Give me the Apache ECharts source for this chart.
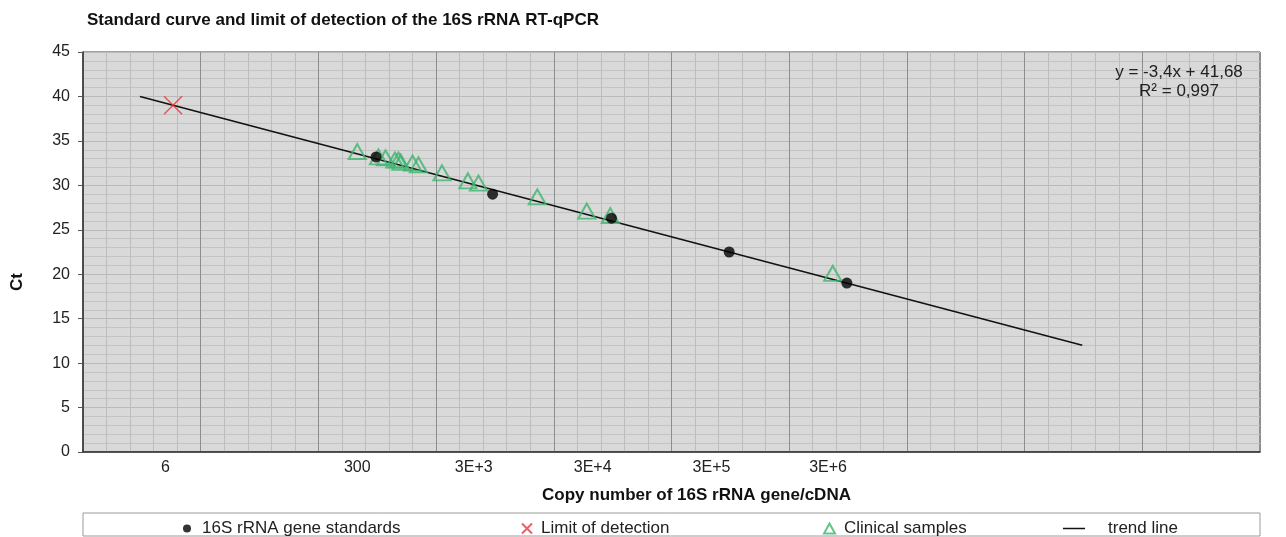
<!DOCTYPE html>
<html><head><meta charset="utf-8">
<script src="https://cdn.jsdelivr.net/npm/echarts@6/dist/echarts.min.js"></script>
<style>html,body{margin:0;padding:0;background:#fff}#c{width:1286px;height:537px}</style>
</head><body><div id="c"></div>
<script>
// x = log10(copy number); labels as printed on the chart
const xTickLabels = ['6', '300', '3E+3', '3E+4', '3E+5', '3E+6'];
const xTickPositions = [0.70, 2.33, 3.32, 4.33, 5.34, 6.33];
const standards = [[2.49, 33.2], [3.48, 29.0], [4.49, 26.3], [5.49, 22.5], [6.49, 19.0]];
const limitOfDetection = [[0.765, 39.0]];
const clinical = [
  [2.33, 33.8], [2.51, 33.2], [2.57, 33.1], [2.65, 32.85], [2.68, 32.85], [2.70, 32.6],
  [2.80, 32.5], [2.85, 32.3], [3.05, 31.4], [3.27, 30.5], [3.36, 30.25], [3.86, 28.7],
  [4.28, 27.1], [4.48, 26.6], [6.37, 20.1]
];
const trendLine = [[0.484, 40.0], [8.49, 12.0]];
const equationText = 'y = -3,4x + 41,68\nR² = 0,997';

const FONT = "'Liberation Sans', Arial, sans-serif";
const chart = echarts.init(document.getElementById('c'));
const crossPath = 'path://M0,0L10,10M10,0L0,10';
const green = '#3cb46e';
const legendText = { fontFamily: FONT, fontSize: 17, color: '#222' };

chart.setOption({
  animation: false,
  backgroundColor: '#fff',
  textStyle: { fontFamily: FONT },
  title: {
    text: 'Standard curve and limit of detection of the 16S rRNA RT-qPCR',
    left: 82, top: 7,
    textStyle: { fontFamily: FONT, fontSize: 17, fontWeight: 'bold', color: '#111' }
  },
  grid: {
    left: 83, right: 26, top: 52, bottom: 85,
    show: true, backgroundColor: '#d9d9d9', borderColor: '#444', borderWidth: 1
  },
  xAxis: {
    type: 'value', min: 0, max: 10, interval: 1,
    name: 'Copy number of 16S rRNA gene/cDNA',
    nameLocation: 'middle', nameGap: 35,
    nameTextStyle: { fontFamily: FONT, fontSize: 17, fontWeight: 'bold', color: '#111', padding: [0, 0, 0, 50] },
    axisLine: { show: true, lineStyle: { color: '#333', width: 1.5 } },
    axisTick: { show: false },
    axisLabel: {
      customValues: xTickPositions,
      margin: 8,
      fontFamily: FONT, fontSize: 16, color: '#222',
      formatter: function (v) {
        let best = 0, d = Infinity;
        xTickPositions.forEach((p, i) => { if (Math.abs(p - v) < d) { d = Math.abs(p - v); best = i; } });
        return xTickLabels[best];
      }
    },
    splitLine: { show: true, lineStyle: { color: '#8e8e8e', width: 1 } },
    minorTick: { show: false, splitNumber: 5 },
    minorSplitLine: { show: true, lineStyle: { color: '#bdbdbd', width: 1 } }
  },
  yAxis: {
    type: 'value', min: 0, max: 45, interval: 5,
    name: 'Ct', nameLocation: 'middle', nameGap: 57,
    nameTextStyle: { fontFamily: FONT, fontSize: 17, fontWeight: 'bold', color: '#111', padding: [0, 60, 0, 0] },
    axisLine: { show: true, lineStyle: { color: '#333', width: 1.5 } },
    axisTick: { show: true, length: 5, lineStyle: { color: '#555' } },
    axisLabel: { margin: 13, fontFamily: FONT, fontSize: 16, color: '#222' },
    splitLine: { show: true, lineStyle: { color: '#b9b9b9', width: 1 } },
    minorTick: { show: false, splitNumber: 5 },
    minorSplitLine: { show: true, lineStyle: { color: '#c3c3c3', width: 1 } }
  },
  legend: [
    { data: ['16S rRNA gene standards'], left: 178, top: 515, itemWidth: 8, itemHeight: 8,
      textStyle: Object.assign({ padding: [0, 0, 0, 6] }, legendText) },
    { data: ['Limit of detection'], left: 516, top: 515, itemWidth: 10, itemHeight: 10,
      textStyle: Object.assign({ padding: [0, 0, 0, 4] }, legendText) },
    { data: ['Clinical samples'], left: 818, top: 515, itemWidth: 11, itemHeight: 10,
      textStyle: Object.assign({ padding: [0, 0, 0, 4] }, legendText) },
    { data: [{ name: 'trend line', icon: 'rect' }], left: 1058, top: 515, itemWidth: 22, itemHeight: 1.5,
      textStyle: Object.assign({ padding: [0, 0, 0, 18] }, legendText) }
  ],
  graphic: [
    { type: 'rect', z: -10, shape: { x: 83, y: 513, width: 1177, height: 23 },
      style: { fill: '#fff', stroke: '#9a9a9a', lineWidth: 1 } },
    { type: 'text', x: 1179, y: 63, z: 10,
      style: { text: equationText, fill: '#222', font: '17px ' + FONT, textAlign: 'center', lineHeight: 19 } }
  ],
  series: [
    { name: 'trend line', type: 'line', data: trendLine, symbol: 'none', z: 2,
      lineStyle: { color: '#111', width: 1.5 }, itemStyle: { color: '#111' } },
    { name: 'Clinical samples', type: 'scatter', data: clinical, symbol: 'triangle', symbolSize: [17, 15], z: 3,
      itemStyle: { color: 'rgba(0,0,0,0)', borderColor: green, borderWidth: 2 } },
    { name: '16S rRNA gene standards', type: 'scatter', data: standards, symbol: 'circle', symbolSize: 11, z: 4,
      itemStyle: { color: '#000' } },
    { name: 'Limit of detection', type: 'scatter', data: limitOfDetection, symbol: crossPath, symbolSize: 18, z: 4,
      itemStyle: { color: 'rgba(0,0,0,0)', borderColor: '#e8343a', borderWidth: 1.5 } }
  ]
});
</script></body></html>
